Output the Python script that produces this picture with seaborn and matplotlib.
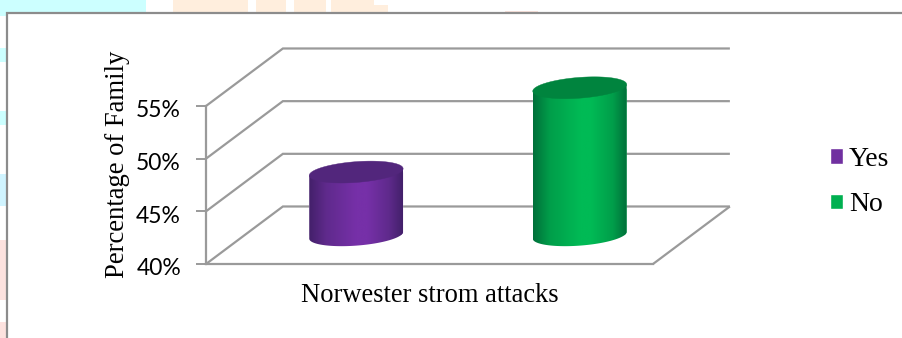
import numpy as np
import pandas as pd
import matplotlib
matplotlib.use("Agg")
import matplotlib.pyplot as plt
import seaborn as sns
from matplotlib.colors import LinearSegmentedColormap
from matplotlib.patches import Polygon, Rectangle
from matplotlib.transforms import ScaledTranslation

# Survey answers
event = ["Norwester strom attacks"]
answers = ["Yes", "No"]
shares = [46, 54]
y_ticks = [40, 45, 50, 55]
y_label = "Percentage of Family"

# Colours: legend fill, side shading, highlight and the darker cap of each cylinder
main_colors = ["#7030A0", "#00B050"]
edge_colors = ["#43206A", "#00703A"]
mid_colors = ["#5F2A8C", "#009E4A"]
glow_colors = ["#7630A8", "#00BA55"]
cap_colors = ["#52267C", "#00843E"]

W, H = 902, 338
sns.set_theme(style="white")
plt.rcParams["font.family"] = ["Liberation Serif", "DejaVu Sans"]

fig = plt.figure(figsize=(W / 100, H / 100), dpi=100, facecolor="white")


def px_rect(x0, y0, x1, y1, **kw):
    """Rectangle on the figure, given in pixels from the top-left corner."""
    return Rectangle((x0 / W, 1 - y1 / H), (x1 - x0) / W, (y1 - y0) / H,
                     transform=fig.transFigure, **kw)


# Pale page decoration around the chart box
for box, tone in [((0, 0, 146, 16), "#CCFFFF"), ((0, 48, 8, 62), "#CCFFFF"),
                  ((0, 111, 8, 125), "#CCFFFF"), ((0, 174, 8, 206), "#D0F4FF"),
                  ((0, 240, 8, 300), "#FDE2DF"), ((0, 322, 8, 338), "#FDE2DF"),
                  ((173, 0, 248, 16), "#FFEEDD"), ((256, 0, 286, 16), "#FFEEDD"),
                  ((294, 0, 326, 16), "#FFEEDD"), ((331, 0, 374, 16), "#FFEEDD"),
                  ((374, 5, 388, 16), "#FFEEDD"), ((505, 11, 538, 14), "#FBE3DC")]:
    fig.add_artist(px_rect(*box, facecolor=tone, edgecolor="none", zorder=-2))

# White chart box with a grey outline that runs off the right and bottom
fig.add_artist(px_rect(7.5, 13, W + 10, H + 10, facecolor="white",
                       edgecolor="#8C8C8C", linewidth=1.6, zorder=-1))

ax = fig.add_axes([206 / W, 1 - 264 / H, 447 / W, 158 / H])
ax.patch.set_alpha(0)

df = pd.DataFrame({"event": event * len(answers), "answer": answers, "share": shares})
sns.barplot(data=df, x="event", y="share", hue="answer", hue_order=answers,
            palette=main_colors, width=1.0, gap=0.58, saturation=1,
            legend=True, ax=ax)

ax.set_xlim(-0.5, 0.5)
ax.set_ylim(y_ticks[0], y_ticks[-1])
base = y_ticks[0]

# Depth of the floor, in data units, and the frame of the 3-D box
depth_x, depth_y = 0.172, 5.46
frame = "#9A9A9A"
for tick in y_ticks:
    ax.plot([-0.5, -0.5 + depth_x, 0.5 + depth_x], [tick, tick + depth_y, tick + depth_y],
            color=frame, lw=1.6, clip_on=False, zorder=1, solid_joinstyle="miter",
            solid_capstyle="butt")
ax.plot([0.5, 0.5 + depth_x], [base, base + depth_y], color=frame, lw=1.6,
        clip_on=False, zorder=1, solid_capstyle="butt")

# Turn each bar into a cylinder standing halfway back on the floor
cap_ratio = 0.19
t = np.linspace(0, 2 * np.pi, 241)
bars = [c[0] for c in ax.containers]
for bar, value, dark, mid, light, cap in zip(bars, shares, edge_colors, mid_colors,
                                             glow_colors, cap_colors):
    half = bar.get_width() / 2
    cx = bar.get_x() + half + depth_x / 2
    floor_y = base + depth_y / 2
    minor_x, minor_y = cap_ratio * depth_x, cap_ratio * depth_y
    major = np.sqrt(max(half ** 2 - minor_x ** 2, 1e-9))

    ring_x = major * np.cos(t) + minor_x * np.sin(t)
    ring_y = minor_y * np.sin(t)
    left = int(np.argmin(ring_x))
    right = int(np.argmax(ring_x))

    # Lower arc of the ring between its left and right extremes
    arc = np.arange(left, left + 241) % 241
    arc = arc[: (right - left) % 240 + 1]
    lower_x, lower_y = cx + ring_x[arc], ring_y[arc] + floor_y
    top_y = floor_y + value - base
    outline = np.column_stack([
        np.r_[lower_x, cx + ring_x[right], cx + ring_x[left]],
        np.r_[lower_y, top_y + ring_y[right], top_y + ring_y[left]],
    ])
    body = Polygon(outline, closed=True, transform=ax.transData,
                   facecolor="none", edgecolor="none")
    ax.add_patch(body)
    body.set_clip_box(fig.bbox)

    # The bar keeps its value as the height of the cylinder body
    bar.set_x(cx - half)
    bar.set_y(floor_y)
    bar.set_height(value - base)
    bar.set_clip_box(fig.bbox)
    bar.set_clip_path(body)
    bar.set_zorder(2)

    # Horizontal shading across the body
    shade = LinearSegmentedColormap.from_list(
        "shade", [(0, dark), (0.18, mid), (0.5, light), (0.62, light), (0.85, mid), (1, dark)])
    im = ax.imshow(np.linspace(0, 1, 256)[None, :], cmap=shade, aspect="auto",
                   extent=(cx - half, cx + half, floor_y - 5, top_y + 5), zorder=3)
    im.set_clip_box(fig.bbox)
    im.set_clip_path(body)

    ax.fill(cx + ring_x, top_y + ring_y, color=cap, lw=0.3, clip_on=False, zorder=4)

ax.set_xlim(-0.5, 0.5)
ax.set_ylim(y_ticks[0], y_ticks[-1])

sns.despine(ax=ax, top=True, right=True)
for side in ("left", "bottom"):
    ax.spines[side].set_color(frame)
    ax.spines[side].set_linewidth(1.6)

ax.set_yticks(y_ticks, [f"{v}%" for v in y_ticks], family="Lato", fontsize=16.5, color="black")
ax.tick_params(axis="y", length=7.5, width=1.4, color=frame, pad=10.5, left=True)
ax.tick_params(axis="x", length=0, pad=14, labelsize=19.1, labelcolor="black")

# The percentage labels sit slightly below their tick marks
nudge = ScaledTranslation(0, -2 / 72, fig.dpi_scale_trans)
for label in ax.get_yticklabels():
    label.set_va("center_baseline")
    label.set_transform(label.get_transform() + nudge)

ax.set_xlabel("")
ax.set_ylabel(y_label, fontsize=19.2, color="black", va="center")
ax.yaxis.set_label_coords(-0.199, 0.628)

ax.legend(loc="upper left", bbox_to_anchor=(824 / W, 1 - 141 / H),
          bbox_transform=fig.transFigure, frameon=False, fontsize=20, title=None,
          handlelength=0.5, handleheight=0.5, handletextpad=0.2,
          labelspacing=0.75, borderpad=0.2, borderaxespad=0, labelcolor="black")

fig.savefig("out.png", dpi=100)
